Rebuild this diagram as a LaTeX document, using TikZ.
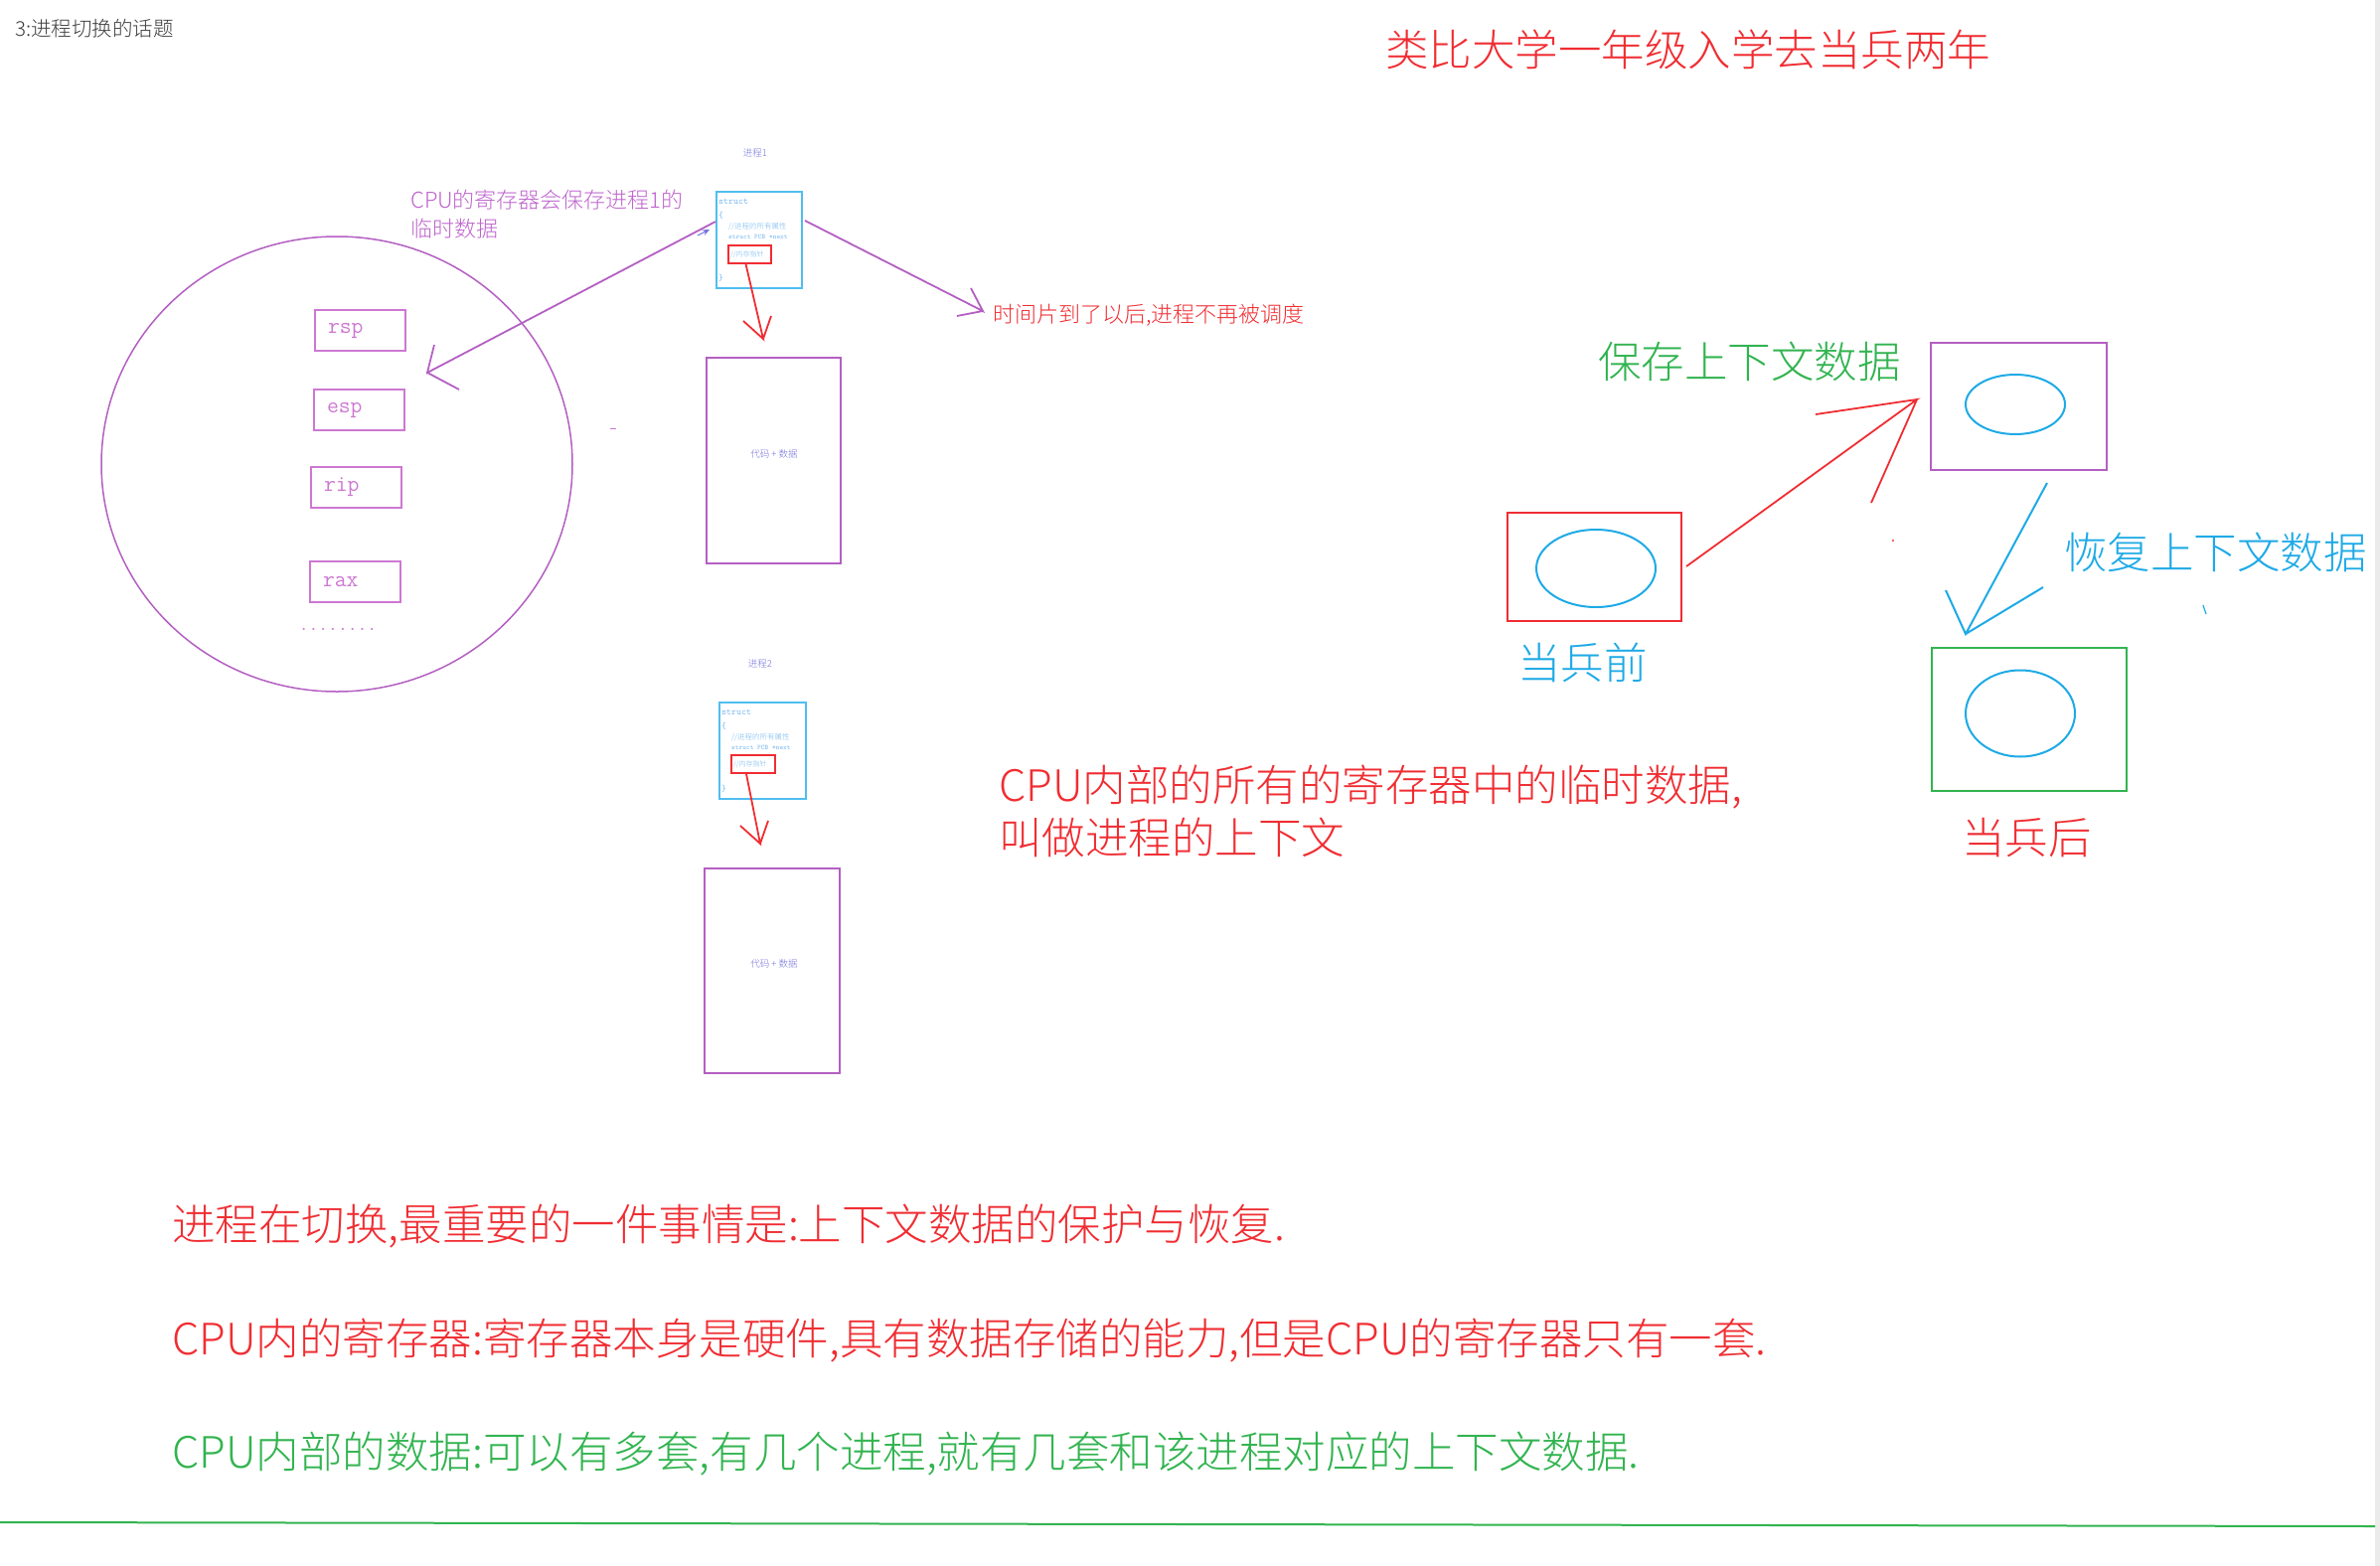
\documentclass[tikz,border=0pt]{standalone}
\usepackage{fontspec}
\setmainfont{Noto Sans CJK SC Light}
\usetikzlibrary{shapes.geometric,arrows.meta}
\definecolor{txtred}{RGB}{240,45,50}
\definecolor{txtgreen}{RGB}{50,180,80}
\definecolor{txtblue}{RGB}{30,170,230}
\definecolor{purp}{RGB}{180,95,195}
\definecolor{regc}{RGB}{205,120,210}
\definecolor{purptxt}{RGB}{190,100,205}
\definecolor{cyanb}{RGB}{80,190,240}
\definecolor{tinyb}{RGB}{120,185,240}
\definecolor{lblb}{RGB}{115,115,220}
\definecolor{greyt}{RGB}{60,60,60}
\begin{document}
\begin{tikzpicture}[x=1pt,y=-1pt,
  txt/.style={inner sep=0pt, anchor=west},
  big/.style={txt, font=\fontsize{43.5}{53}\selectfont},
  mid/.style={txt, font=\fontsize{22}{29}\selectfont},
  regbox/.style={draw=regc, line width=1.6pt, inner xsep=13pt, inner ysep=0pt,
     text width=65pt, align=left, minimum height=41pt, text=regc,
     font=\ttfamily\fontsize{23}{23}\selectfont},
  sbox/.style={draw=cyanb, line width=2pt, inner sep=0pt},
  pbox/.style={draw=purp, line width=2.5pt, inner sep=0pt},
  ptrbox/.style={draw=txtred, line width=1.5pt, inner sep=0pt},
  oval/.style={ellipse, draw=txtblue, line width=2pt, inner sep=0pt},
  purpln/.style={draw=purp, line width=1.8pt},
  redln/.style={draw=txtred, line width=1.8pt},
  blueln/.style={draw=txtblue, line width=2pt},
  tinyt/.style={txt, text=tinyb},
]
\useasboundingbox (0,0) rectangle (2395,1576);
\fill[white] (0,0) rectangle (2395,1576);
\fill[black!8] (2390,0) rectangle (2395,1576);

% title
\node[txt, text=greyt, font=\fontsize{20.5}{21}\selectfont] (title) at (15,29) {3:进程切换的话题};
\node[big, text=txtred] (analogy) at (1394,50) {类比大学一年级入学去当兵两年};

% CPU circle with registers
\node[ellipse, draw=purp, line width=1.5pt, minimum width=474pt, minimum height=458pt, inner sep=0pt] (cpu) at (339,467) {};
\node[regbox] (rsp) at (362.5,332.5) {rsp};
\node[regbox] (esp) at (361.5,412.5) {esp};
\node[regbox] (rip) at (358.5,490.5) {rip};
\node[regbox] (rax) at (357.5,585.5) {rax};
\node[inner sep=0pt, text=regc, font=\ttfamily\fontsize{19}{19}\selectfont] (dots) at (340,633) {........};

\node[mid, text=purptxt, align=left] (cpulbl) at (413,216) {CPU的寄存器会保存进程1的\\临时数据};

% process 1
\node[inner sep=0pt, text=lblb, font=\fontsize{9.5}{10}\selectfont] (p1lbl) at (760,154) {进程1};
\node[sbox, minimum width=86pt, minimum height=97pt] (s1) at (764,241.5) {};
\node[tinyt, font=\ttfamily\fontsize{9.5}{10}\selectfont] (s1a) at (723,203) {struct};
\node[tinyt, font=\ttfamily\fontsize{9}{10}\selectfont] (s1b) at (723,217) {\{};
\node[tinyt, font=\fontsize{7.5}{8}\selectfont] (s1c) at (733,228) {//进程的所有属性};
\node[tinyt, font=\ttfamily\fontsize{7}{8}\selectfont] (s1d) at (733,238) {struct PCB *next};
\node[ptrbox, minimum width=43pt, minimum height=18pt] (ptr1) at (754.5,256) {};
\node[tinyt, font=\fontsize{7}{8}\selectfont] (s1e) at (735,256) {//内存指针};
\node[tinyt, font=\ttfamily\fontsize{9}{10}\selectfont] (s1f) at (723,280) {\}};
\node[pbox, minimum width=135pt, minimum height=207pt] (code1) at (778.5,463.5) {};
\node[inner sep=0pt, text=lblb, font=\fontsize{9.5}{10}\selectfont] (c1t) at (779,457) {代码 + 数据};

% process 2
\node[inner sep=0pt, text=lblb, font=\fontsize{9.5}{10}\selectfont] (p2lbl) at (765,668) {进程2};
\node[sbox, minimum width=87pt, minimum height=97pt] (s2) at (767.5,755.5) {};
\node[tinyt, font=\ttfamily\fontsize{9.5}{10}\selectfont] (s2a) at (726,717) {struct};
\node[tinyt, font=\ttfamily\fontsize{9}{10}\selectfont] (s2b) at (726,731) {\{};
\node[tinyt, font=\fontsize{7.5}{8}\selectfont] (s2c) at (736,742) {//进程的所有属性};
\node[tinyt, font=\ttfamily\fontsize{7}{8}\selectfont] (s2d) at (736,752) {struct PCB *next};
\node[ptrbox, minimum width=44pt, minimum height=18pt] (ptr2) at (758,769) {};
\node[tinyt, font=\fontsize{7}{8}\selectfont] (s2e) at (738,769) {//内存指针};
\node[tinyt, font=\ttfamily\fontsize{9}{10}\selectfont] (s2f) at (726,794) {\}};
\node[pbox, minimum width=136pt, minimum height=206pt] (code2) at (777,977) {};
\node[inner sep=0pt, text=lblb, font=\fontsize{9.5}{10}\selectfont] (c2t) at (779,970) {代码 + 数据};

% arrows process side
\coordinate (t1) at (768,341);
\draw[redln] ([xshift=-4pt]ptr1.south) -- (t1) -- ++(-20,-18) (t1) -- ++(8,-23);
\coordinate (t2) at (765,849);
\draw[redln] ([xshift=-7pt]ptr2.south) -- (t2) -- ++(-20,-18) (t2) -- ++(8,-23);

\coordinate (regtip) at (430,375);
\coordinate (s1in) at (720,223);
\draw[purpln] (s1in) -- (regtip) -- ++(7,-28) (regtip) -- ++(32,17);
\draw[draw=lblb, line width=1pt, -{Stealth[length=7pt,width=6pt]}] (702,237) -- (714,231);

\coordinate (s1out) at (810,222);
\coordinate (ttip) at (989,313);
\draw[purpln] (s1out) -- (ttip) -- ++(-12,-23) (ttip) -- ++(-26,5);
\node[mid, text=txtred] (tslice) at (999,317) {时间片到了以后,进程不再被调度};

% stray marks
\draw[regc, line width=1pt] (614,431) -- (620,431);

% middle text
\node[big, text=txtred, align=left] (ctx) at (1005,816) {CPU内部的所有的寄存器中的临时数据,\\叫做进程的上下文};

% right side
\node[big, text=txtgreen] (save) at (1608,364) {保存上下文数据};
\node[draw=purp, line width=2pt, inner sep=0pt, minimum width=177pt, minimum height=128pt] (mid) at (2031.5,409) {};
\node[oval, minimum width=100pt, minimum height=60pt] (ovm) at (2028,407) {};
\node[draw=txtred, line width=2pt, inner sep=0pt, minimum width=175pt, minimum height=109pt] (before) at (1604.5,570.5) {};
\node[oval, minimum width=120pt, minimum height=78pt] (ovb) at (1606,572) {};
\node[big, text=txtblue] (beforet) at (1527,667) {当兵前};
\node[draw=txtgreen, line width=2pt, inner sep=0pt, minimum width=196pt, minimum height=144pt] (after) at (2042,724) {};
\node[oval, minimum width=110pt, minimum height=87pt] (ova) at (2033,718) {};
\node[big, text=txtred] (aftert) at (1974,843) {当兵后};
\node[big, text=txtblue] (restore) at (2077,556) {恢复上下文数据};

\coordinate (rs) at (1697,570);
\coordinate (rt) at (1929,402);
\draw[redln] (rs) -- (rt) -- ++(-102,15) (rt) -- ++(-46,104);
\coordinate (bs) at (2060,486);
\coordinate (bt) at (1978,638);
\draw[blueln] (bs) -- (bt) -- ++(-20,-44) (bt) -- ++(78,-47);
\fill[txtred] (1905,544) circle (1.2pt);
\draw[txtblue, line width=1.2pt] (2217,609) -- (2220,618);

% bottom texts
\node[big, text=txtred] (l1) at (173,1234) {进程在切换,最重要的一件事情是:上下文数据的保护与恢复.};
\node[big, text=txtred] (l2) at (173,1349) {CPU内的寄存器:寄存器本身是硬件,具有数据存储的能力,但是CPU的寄存器只有一套.};
\node[big, text=txtgreen] (l3) at (173,1463) {CPU内部的数据:可以有多套,有几个进程,就有几套和该进程对应的上下文数据.};

\coordinate (gl) at (0,1532);
\coordinate (gr) at (2390,1536);
\draw[txtgreen, line width=2pt] (gl) -- (gr);
\end{tikzpicture}
\end{document}
